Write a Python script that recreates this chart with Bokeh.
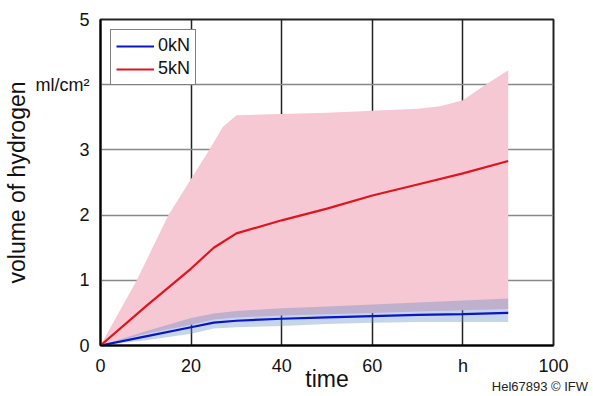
from bokeh.plotting import figure
from bokeh.models import Range1d, FixedTicker, LinearAxis, Legend, LegendItem
from bokeh.embed import file_html
from bokeh.resources import INLINE

# ---- data ----
x_ticks = [0, 20, 40, 60, 80, 100]
x_tick_labels = {0: "0", 20: "20", 40: "40", 60: "60", 80: "h", 100: "100"}
y_ticks = [0, 1, 2, 3, 4, 5]
y_tick_labels = {0: "0", 1: "1", 2: "2", 3: "3", 4: "ml/cm²", 5: "5"}

t_mean = [0, 10, 20, 25, 30, 40, 50, 60, 70, 80, 90]
red_mean = [0, 0.6, 1.18, 1.5, 1.72, 1.92, 2.1, 2.3, 2.47, 2.64, 2.83]
blue_mean = [0, 0.14, 0.28, 0.35, 0.38, 0.41, 0.43, 0.45, 0.47, 0.48, 0.5]
blue_upper = [0, 0.22, 0.42, 0.49, 0.53, 0.57, 0.6, 0.63, 0.66, 0.69, 0.72]
blue_lower = [0, 0.08, 0.18, 0.26, 0.28, 0.3, 0.33, 0.35, 0.36, 0.36, 0.36]
red_lower = [0, 0.18, 0.32, 0.4, 0.43, 0.46, 0.48, 0.5, 0.52, 0.54, 0.56]

t_red_upper = [0, 8, 15, 24, 27, 30, 40, 50, 60, 70, 75, 80, 85, 90]
red_upper = [0, 1.0, 2.0, 3.0, 3.35, 3.53, 3.55, 3.57, 3.6, 3.63, 3.67, 3.76, 4.0, 4.22]

series_names = ["0kN", "5kN"]
credit_text = "Hel67893 © IFW"
credit_pos = 97  # x position (data units) where the credit note is centred

FONT = "Liberation Sans"

p = figure(width=593, height=396, output_backend="svg", toolbar_location=None,
           x_range=Range1d(0, 100), y_range=Range1d(0, 5),
           min_border_left=98, min_border_right=40, min_border_top=19, min_border_bottom=10)

# red band (patch from upper and reversed lower)
xs_red = t_red_upper + t_mean[::-1]
ys_red = red_upper + red_lower[::-1]
p.patch(xs_red, ys_red, fill_color="#F6C8D3", line_color=None)

# blue band
xs_blue = t_mean + t_mean[::-1]
ys_blue = blue_upper + blue_lower[::-1]
p.patch(xs_blue, ys_blue, fill_color="#5A87C3", fill_alpha=0.35, line_color=None)

r0 = p.line(t_mean, blue_mean, line_color="#0A14C8", line_width=2.2)
r1 = p.line(t_mean, red_mean, line_color="#E0141E", line_width=2.2)

# axes
xax = p.xaxis[0]
yax = p.yaxis[0]
xax.ticker = FixedTicker(ticks=x_ticks)
yax.ticker = FixedTicker(ticks=y_ticks)
xax.major_label_overrides = x_tick_labels
yax.major_label_overrides = y_tick_labels
for ax in (xax, yax):
    ax.major_tick_line_color = None
    ax.minor_tick_line_color = None
    ax.axis_line_color = "black"
    ax.axis_line_width = 2
    ax.major_label_text_font = FONT
    ax.major_label_text_font_size = "18px"
    ax.major_label_text_color = "#111111"
    ax.axis_label_text_font = FONT
    ax.axis_label_text_font_size = "23px"
    ax.axis_label_text_font_style = "normal"
    ax.axis_label_text_color = "#111111"
xax.axis_label = "time"
yax.axis_label = "volume of hydrogen"
xax.major_label_standoff = 4
xax.axis_label_standoff = -13
yax.major_label_standoff = 5
yax.axis_label_standoff = 3

# credit note as a tick label of an extra, line-less axis below
cax = LinearAxis(ticker=FixedTicker(ticks=[credit_pos]),
                 major_label_overrides={credit_pos: credit_text})
cax.axis_line_color = None
cax.major_tick_line_color = None
cax.minor_tick_line_color = None
cax.major_label_standoff = -22
cax.major_label_text_font = FONT
cax.major_label_text_font_size = "13px"
cax.major_label_text_color = "#222222"
p.add_layout(cax, "below")

p.xgrid.grid_line_color = "#222222"
p.xgrid.grid_line_width = 1.5
p.ygrid.grid_line_color = "#888888"
p.ygrid.grid_line_width = 1.5

p.outline_line_color = "#222222"
p.outline_line_width = 2
p.background_fill_color = "white"
p.border_fill_color = "white"

legend = Legend(items=[LegendItem(label=series_names[0], renderers=[r0]),
                       LegendItem(label=series_names[1], renderers=[r1])],
                location="top_left")
legend.margin = 10
legend.padding = 5
legend.spacing = 2
legend.glyph_width = 38
legend.glyph_height = 18
legend.label_height = 18
legend.label_standoff = 4
legend.label_text_font = FONT
legend.label_text_font_size = "18px"
legend.label_text_color = "#111111"
legend.border_line_color = "black"
legend.border_line_width = 1.5
legend.background_fill_alpha = 1
p.add_layout(legend)

open("out.html", "w").write(file_html(p, INLINE))
